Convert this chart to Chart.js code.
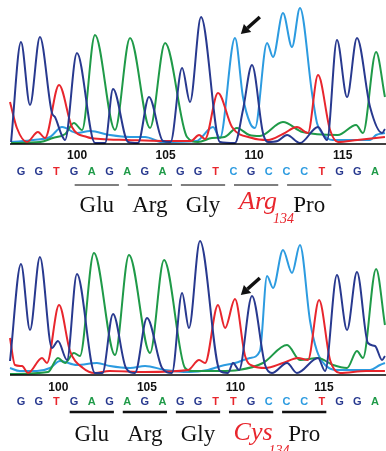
<!DOCTYPE html>
<html><head><meta charset="utf-8">
<script src="https://cdn.jsdelivr.net/npm/chart.js@4.4.0/dist/chart.umd.min.js"></script>
<style>
html,body{margin:0;padding:0;background:#fff;}
#wrap{position:relative;width:386px;height:451px;overflow:hidden;background:#fff;}
canvas{position:absolute;left:0;}
</style></head><body>
<div id="wrap">
<canvas id="topChart" width="386" height="230" style="top:0px"></canvas>
<canvas id="botChart" width="386" height="221" style="top:230px"></canvas>
</div>
<script>
// ---- DATA (x = base-call position, y = signal intensity) ----
const topBases = "GGTGAGAGAGGTCGCCCTGGA".split("");
const botBases = "GGTGAGAGAGGTTGCCCTGGA".split("");
const topFirstNumber = 97;
const botFirstNumber = 98;
const topAminoAcids = ["Glu", "Arg", "Gly", "Arg", "Pro"];
const botAminoAcids = ["Glu", "Arg", "Gly", "Cys", "Pro"];
const codonStartIndex = 3;
const mutantCodon = 3;
const mutantResidue = "134";
const mutantBaseIndex = 12;

const topG = [[-0.56,1],[0,101],[0.51,38],[1.07,106],[1.75,30],[1.92,26],[2.3,8],[2.49,3],[3.16,90],[4.18,0],[4.75,0],[5.2,54],[6.05,1],[6.61,0],[7.23,46],[8.02,2],[8.45,1],[9.1,75],[9.55,41],[10.17,126],[11.24,1],[12.09,0],[12.54,33],[13.05,78],[13.67,10],[13.95,1],[14.5,2],[15.03,8],[15.76,0],[16.78,16],[17.29,3],[17.85,103],[18.42,46],[18.98,105],[19.72,36],[20.4,10],[20.56,14]];
const topA = [[-0.56,0],[1.1,1],[1.8,5],[2.5,9],[2.99,20],[3.45,13],[4.18,108],[5.31,13],[6.16,105],[7.29,15],[8.14,100],[9.38,6],[10.0,1],[10.79,5],[11.5,6],[12.2,15],[12.9,8],[13.5,7],[14.8,21],[15.9,11],[17.9,8],[18.93,18],[19.32,10],[20.06,91],[20.56,46]];
const topT = [[-0.62,41],[-0.23,15],[0.34,1],[0.96,11],[1.36,5],[2.15,58],[2.88,16],[3.73,6],[4.5,4],[6,3],[8,2],[9.6,2],[10.06,8],[10.4,4],[11.13,50],[11.92,16],[13.05,5],[13.95,3],[14.8,9],[15.59,16],[16.21,10],[16.78,68],[17.46,13],[17.91,1],[19,3],[20.56,6]];
const topC = [[-0.56,1],[0.7,3],[1.64,6],[2.32,16],[3.16,10],[3.9,12],[5.03,8],[6.16,6],[7.01,6],[7.97,1],[9.9,2],[10.85,16],[11.24,5],[12.09,105],[12.54,46],[12.94,20],[13.22,15],[13.9,100],[14.24,86],[14.8,130],[15.31,96],[15.76,135],[16.44,50],[16.72,20],[17.01,10],[17.6,3],[19.72,3],[20.06,8],[20.56,10]];

const botG = [[-0.62,13],[0,110],[0.51,44],[1.07,117],[1.75,26],[2.09,33],[2.6,14],[3.16,100],[4.18,1],[4.6,1],[5.2,60],[5.93,6],[6.44,1],[7.12,56],[7.97,6],[8.53,1],[9.1,81],[9.49,46],[10.11,133],[11.24,3],[11.69,1],[11.98,11],[12.32,4],[13.05,78],[13.79,9],[14.18,1],[15.03,11],[15.59,1],[16.78,16],[17.18,3],[17.85,99],[18.42,44],[18.98,102],[19.6,31],[20.0,28],[20.4,14],[20.56,18]];
const botA = [[-0.62,0],[1.53,2],[2.09,16],[2.49,11],[2.99,21],[3.33,18],[4.12,121],[5.31,19],[6.1,119],[7.29,21],[8.08,114],[9.27,6],[9.7,3],[11.2,3],[12.3,4],[13.67,11],[15.03,29],[15.76,14],[16.78,16],[17.63,9],[18.42,6],[18.98,23],[19.32,16],[20.06,105],[20.56,49]];
const botT = [[-0.62,36],[-0.34,9],[0.06,8],[0.4,1],[1.19,16],[1.47,11],[2.15,69],[2.77,23],[3.5,6],[4.18,1],[5,3],[7,2],[9.44,4],[10.06,14],[10.4,11],[11.13,69],[11.53,46],[12.09,75],[12.66,18],[13.11,8],[13.8,6],[14.8,11],[15.65,16],[16.21,14],[16.84,74],[17.46,14],[18.02,1],[19.5,3],[20.56,3]];
const botC = [[-0.62,6],[-0.06,3],[0.9,3],[1.64,6],[2.2,13],[3.16,9],[4.29,11],[5.03,8],[6.16,6],[7.01,8],[8.14,4],[9.5,2],[10.56,4],[11.3,8],[12.09,11],[12.94,16],[13.5,23],[13.9,98],[14.24,86],[14.8,124],[15.31,101],[15.76,129],[16.33,53],[16.72,23],[17.18,9],[17.85,4],[19.72,4],[20.28,9],[20.56,11]];

// ---- STYLE ----
const COLORS = {G:'#28398f', A:'#1f9a48', T:'#e8262d', C:'#2c9be0'};

const annotPlugin = {
  id: 'annot',
  afterDatasetsDraw(chart, args, o) {
    const ctx = chart.ctx, xs = chart.scales.x, ys = chart.scales.y;
    const area = chart.chartArea;
    const base = ys.getPixelForValue(0);
    ctx.save();
    // baseline
    ctx.strokeStyle = '#000'; ctx.lineWidth = 1.5;
    ctx.beginPath(); ctx.moveTo(area.left, base + 1); ctx.lineTo(area.right, base + 1); ctx.stroke();
    // position numbers
    ctx.fillStyle = '#111';
    ctx.font = 'bold 12px "Liberation Sans", Arial, sans-serif';
    ctx.textAlign = 'center'; ctx.textBaseline = 'middle';
    o.bases.forEach((b, i) => {
      const n = o.firstNumber + i;
      if (n % 5 === 0) ctx.fillText(String(n), xs.getPixelForValue(i) + o.numShift, base + o.numDy);
    });
    // base letters
    ctx.font = 'bold 11px "Liberation Sans", Arial, sans-serif';
    o.bases.forEach((b, i) => {
      ctx.fillStyle = COLORS[b];
      ctx.fillText(b, xs.getPixelForValue(i), base + o.letterDy);
    });
    // codons
    o.aminoAcids.forEach((aa, k) => {
      const c = codonStartIndex + 3 * k + 1;
      const cx = xs.getPixelForValue(c) + o.labelShift;
      const half = xs.getPixelForValue(c + 1.25) - xs.getPixelForValue(c);
      ctx.strokeStyle = o.ulColor; ctx.lineWidth = o.ulWidth;
      ctx.beginPath(); ctx.moveTo(cx - half, base + o.ulDy); ctx.lineTo(cx + half, base + o.ulDy); ctx.stroke();
      ctx.textBaseline = 'alphabetic'; ctx.textAlign = 'center';
      if (k === mutantCodon) {
        ctx.fillStyle = '#e8262d';
        ctx.font = 'italic 26px "Liberation Serif", "Times New Roman", serif';
        const w = ctx.measureText(aa).width;
        ctx.fillText(aa, cx + 2, base + o.mutDy);
        ctx.font = 'italic 14px "Liberation Serif", "Times New Roman", serif';
        ctx.textAlign = 'left';
        ctx.fillText(mutantResidue, cx + 2 + w / 2 - 4, base + o.subDy);
      } else {
        ctx.fillStyle = '#111';
        ctx.font = '23px "Liberation Serif", "Times New Roman", serif';
        ctx.fillText(aa, cx, base + o.aaDy);
      }
    });
    // arrow pointing at the mutated base
    let peak = 0;
    chart.data.datasets.forEach(ds => ds.data.forEach(p => { if (Math.abs(p.x - mutantBaseIndex) < 0.3) peak = Math.max(peak, p.y); }));
    const tx = xs.getPixelForValue(mutantBaseIndex + 0.42), ty = ys.getPixelForValue(peak) - 4;
    const fx = tx + 19, fy = ty - 17;
    const ang = Math.atan2(ty - fy, tx - fx);
    ctx.strokeStyle = '#111'; ctx.fillStyle = '#111'; ctx.lineWidth = 3.5; ctx.lineCap = 'butt';
    const hx = tx - 9 * Math.cos(ang), hy = ty - 9 * Math.sin(ang);
    ctx.beginPath(); ctx.moveTo(fx, fy); ctx.lineTo(hx, hy); ctx.stroke();
    ctx.beginPath();
    ctx.moveTo(tx, ty);
    ctx.lineTo(hx + 5.5 * Math.sin(ang), hy - 5.5 * Math.cos(ang));
    ctx.lineTo(hx - 5.5 * Math.sin(ang), hy + 5.5 * Math.cos(ang));
    ctx.closePath(); ctx.fill();
    ctx.restore();
  }
};

function trace(data, color) {
  return {
    data: data.map(p => ({x: p[0], y: p[1]})),
    borderColor: color, borderWidth: 2, pointRadius: 0, fill: false,
    cubicInterpolationMode: 'monotone', clip: 4
  };
}

function makeChart(id, G, A, T, C, padTop, padBottom, annot) {
  return new Chart(document.getElementById(id), {
    type: 'line',
    data: { datasets: [trace(G, COLORS.G), trace(T, COLORS.T), trace(A, COLORS.A), trace(C, COLORS.C)] },
    options: {
      responsive: false, animation: false, devicePixelRatio: 1,
      layout: { padding: { left: 10, right: 0, top: padTop, bottom: padBottom } },
      scales: {
        x: { type: 'linear', min: -0.62, max: 20.62, display: false },
        y: { min: 0, max: 140, display: false }
      },
      plugins: { legend: { display: false }, tooltip: { enabled: false }, annot: annot }
    },
    plugins: [annotPlugin]
  });
}

makeChart('topChart', topG, topA, topT, topC, 3, 87, {
  bases: topBases, firstNumber: topFirstNumber, aminoAcids: topAminoAcids,
  numShift: 3, numDy: 13, letterDy: 29, ulDy: 42, ulColor: '#555', ulWidth: 1.4,
  labelShift: 5, aaDy: 69, mutDy: 66, subDy: 80
});
makeChart('botChart', botG, botA, botT, botC, 4, 77, {
  bases: botBases, firstNumber: botFirstNumber, aminoAcids: botAminoAcids,
  numShift: 2, numDy: 14, letterDy: 28, ulDy: 38, ulColor: '#111', ulWidth: 2.6,
  labelShift: 0, aaDy: 67, mutDy: 66, subDy: 81
});
</script>
</body></html>
